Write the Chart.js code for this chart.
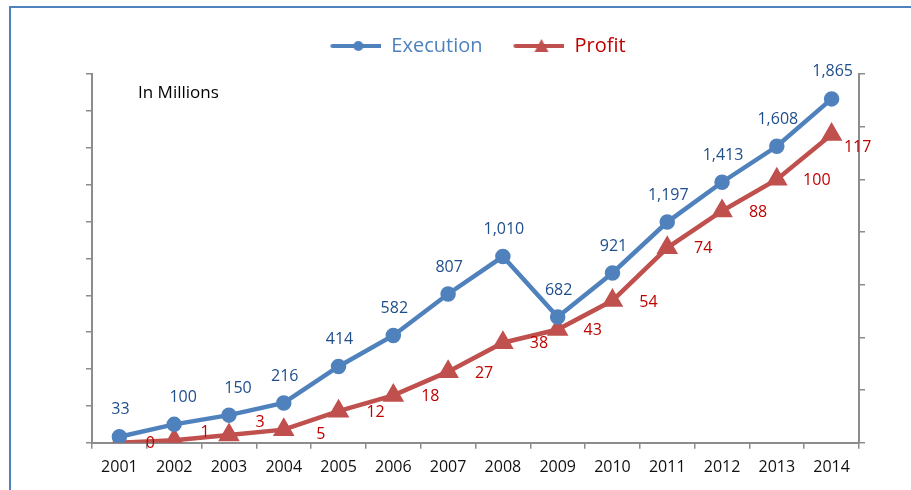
<!DOCTYPE html>
<html>
<head>
<meta charset="utf-8">
<script src="https://cdn.jsdelivr.net/npm/chart.js@4"></script>
<style>
    html, body { margin: 0; padding: 0; background: #fff; }
    #frame {
        position: absolute; left: 9px; top: 6px; width: 920px; height: 500px;
        border-left: 2px solid #4f81bd; border-top: 2px solid #4f81bd;
    }
    #wrap { position: absolute; left: 0; top: 0; width: 911px; height: 490px; }
</style>
</head>
<body>
<div id="frame"></div>
<div id="wrap"><canvas id="salesChart" width="911" height="490"></canvas></div>
<script>
var years = ['2001', '2002', '2003', '2004', '2005', '2006', '2007',
             '2008', '2009', '2010', '2011', '2012', '2013', '2014'];
var execution = [33, 100, 150, 216, 414, 582, 807, 1010, 682, 921, 1197, 1413, 1608, 1865];
var profit = [0, 1, 3, 5, 12, 18, 27, 38, 43, 54, 74, 88, 100, 117];

var blue = '#4f81bd';
var red = '#c0504d';
var fontName = "'Open Sans', 'Noto Sans', sans-serif";

// legend symbol: short line with the marker in the middle
function legendIcon(color, style) {
    var c = document.createElement('canvas');
    c.width = 56; c.height = 16;
    var g = c.getContext('2d');
    g.strokeStyle = color; g.fillStyle = color;
    g.lineWidth = 4; g.lineCap = 'round';
    g.beginPath(); g.moveTo(7, 8); g.lineTo(58, 8); g.stroke();
    g.beginPath();
    if (style === 'circle') {
        g.arc(33, 8, 5, 0, Math.PI * 2);
    } else {
        g.moveTo(33, 1); g.lineTo(40, 14); g.lineTo(26, 14); g.closePath();
    }
    g.fill();
    return c;
}

// extra room under the legend
var legendGap = {
    id: 'legendGap',
    beforeInit: function (chart) {
        var fit = chart.legend.fit;
        chart.legend.fit = function () {
            fit.bind(chart.legend)();
            this.height += 8;
        };
    }
};

// value labels, drawn next to each point
var valueLabels = {
    id: 'valueLabels',
    afterDatasetsDraw: function (chart) {
        var ctx = chart.ctx;
        ctx.save();
        ctx.font = '16px ' + fontName;
        ctx.textAlign = 'center';
        ctx.textBaseline = 'middle';
        chart.getDatasetMeta(0).data.forEach(function (pt, i) {
            ctx.fillStyle = '#1f4e8c';
            var dx = (i === 1 || i === 2) ? 9 : 1;
            ctx.fillText(execution[i].toLocaleString('en-US'), pt.x + dx, pt.y - 27);
        });
        var shift = [[31, 1], [31, -8], [31, -12], [37, 5], [37, 1], [37, 1], [36, 2], [36, 1],
                     [35, 1], [36, 2], [36, 1], [36, 1], [40, 1], [26, 13]];
        chart.getDatasetMeta(1).data.forEach(function (pt, i) {
            ctx.fillStyle = '#c00000';
            ctx.fillText(String(profit[i]), pt.x + shift[i][0], pt.y + shift[i][1]);
        });
        ctx.fillStyle = '#000';
        ctx.font = '17px ' + fontName;
        ctx.textAlign = 'left';
        ctx.fillText('In Millions', 138, 93);
        ctx.restore();
    }
};

document.addEventListener('DOMContentLoaded', function () {
    var ctx = document.getElementById('salesChart').getContext('2d');
    var chart = new Chart(ctx, {
        type: 'line',
        data: {
            labels: years,
            datasets: [{
                label: 'Execution',
                data: execution,
                yAxisID: 'y',
                borderColor: blue,
                backgroundColor: blue,
                borderWidth: 4.5,
                pointStyle: 'circle',
                pointRadius: 5.5,
                pointHoverRadius: 5.5,
                tension: 0
            }, {
                label: 'Profit',
                data: profit,
                yAxisID: 'y2',
                borderColor: red,
                backgroundColor: red,
                borderWidth: 4.5,
                pointStyle: 'triangle',
                pointRadius: 8,
                pointHoverRadius: 8,
                tension: 0
            }]
        },
        options: {
            responsive: false,
            animation: false,
            layout: {
                padding: { top: 10, left: 86, right: 46, bottom: 4 }
            },
            scales: {
                x: {
                    offset: true,
                    grid: {
                        offset: true,
                        drawOnChartArea: false,
                        tickLength: 6,
                        color: '#8c8c8c',
                        lineWidth: 1.5
                    },
                    border: { color: '#8c8c8c', width: 2 },
                    ticks: {
                        color: '#111',
                        font: { family: fontName, size: 16 },
                        padding: 9,
                        maxRotation: 0
                    }
                },
                y: {
                    position: 'left',
                    min: 0,
                    max: 2000,
                    ticks: { stepSize: 200, display: false },
                    grid: { drawOnChartArea: false, tickLength: 6, color: '#8c8c8c', lineWidth: 1.5 },
                    border: { color: '#8c8c8c', width: 2 }
                },
                y2: {
                    position: 'right',
                    min: 0,
                    max: 140,
                    ticks: { stepSize: 20, display: false },
                    grid: { drawOnChartArea: false, tickLength: 6, color: '#8c8c8c', lineWidth: 1.5 },
                    border: { color: '#8c8c8c', width: 2 }
                }
            },
            plugins: {
                tooltip: { enabled: false },
                legend: {
                    position: 'top',
                    labels: {
                        usePointStyle: true,
                        pointStyleWidth: 56,
                        padding: 26,
                        font: { family: fontName, size: 20 },
                        generateLabels: function () {
                            return [
                                { text: 'Execution', fontColor: blue, pointStyle: legendIcon(blue, 'circle'),
                                  fillStyle: blue, strokeStyle: blue, lineWidth: 0, datasetIndex: 0 },
                                { text: 'Profit', fontColor: '#c00000', pointStyle: legendIcon(red, 'triangle'),
                                  fillStyle: red, strokeStyle: red, lineWidth: 0, datasetIndex: 1 }
                            ];
                        }
                    }
                }
            }
        },
        plugins: [legendGap, valueLabels]
    });
});
</script>
</body>
</html>
